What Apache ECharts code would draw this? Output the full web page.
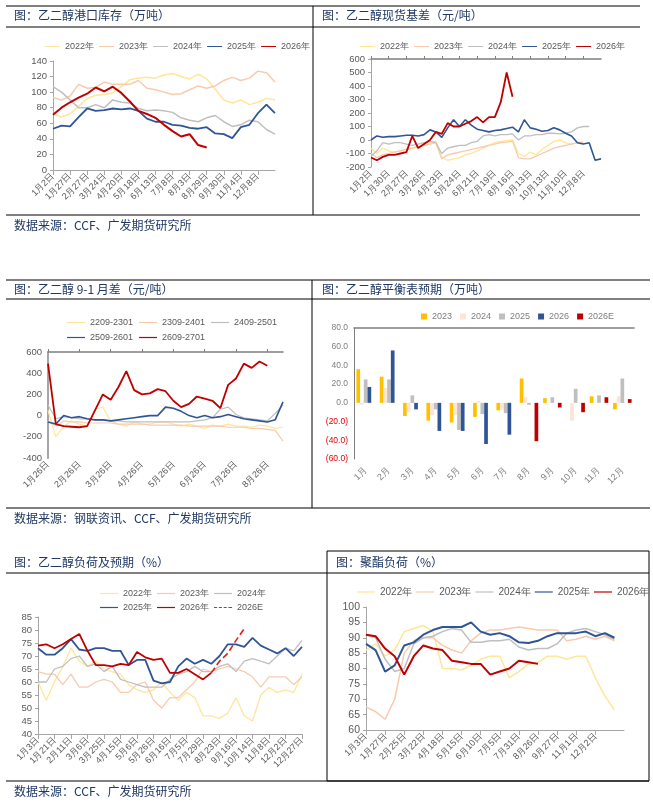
<!DOCTYPE html>
<html><head><meta charset="utf-8">
<script src="https://cdn.jsdelivr.net/npm/echarts@6/dist/echarts.min.js"></script>
<style>html,body{margin:0;padding:0;background:#fff}#main{width:653px;height:802px}</style>
</head><body><div id="main"></div>
<script>
// ---- 港口库存 ----
var p1Ticks=['1月2日','1月27日','2月27日','3月24日','4月20日','5月18日','6月13日','7月8日','8月3日','8月29日','9月30日','11月4日','12月8日'];
var inv2022=[72,68,72,82,92,96,97,99,107,116,118,119,118,122,124,120,117,123,117,104,90,86,90,84,87,92,90];
var inv2023=[93,90,95,110,105,106,113,110,110,110,115,105,103,100,97,98,103,108,105,108,115,119,115,118,127,125,113];
var inv2024=[107,100,90,80,80,84,80,90,87,86,79,76,77,76,74,67,64,62,67,70,62,56,58,64,62,52,46];
var inv2025=[53,57,56,68,79,76,77,79,78,79,76,66,62,62,58,57,54,53,55,47,46,41,55,58,73,84,73];
var inv2026=[71,80,87,93,98,106,101,107,99,88,76,72,67,58,50,43,46,32,29];
// ---- 现货基差 ----
var p2Ticks=['1月2日','1月30日','2月27日','3月26日','4月23日','5月24日','6月21日','7月19日','8月16日','9月13日','10月13日','11月10日','12月8日'];
var bs2022=[-60,-100,-60,-80,-90,-80,-70,-60,-50,-40,-20,-10,-130,-150,-140,-130,-110,-100,-80,-60,-40,-20,-10,-5,0,-100,-120,-90,-110,-70,-40,-10,0,-20,-30,-20,-10];
var bs2023=[-100,-130,-110,-100,-90,-80,-70,-60,-50,-40,-30,-20,-140,-110,-100,-90,-80,-70,-60,-50,-40,-30,-20,-15,-10,-130,-140,-140,-120,-100,-80,-60,-50,-40,-30,-20,-20];
var bs2024=[-120,-80,-20,-30,-20,-20,-30,-40,-30,-20,-10,-20,-100,-60,-50,-40,-40,-20,-10,30,40,30,40,40,45,0,30,30,40,40,50,50,45,50,60,90,100,100];
var bs2025=[0,30,20,25,25,30,35,35,30,40,75,60,20,90,150,100,150,110,80,70,60,70,75,85,95,60,150,90,80,65,70,90,75,50,30,-20,-30,-20,-150,-140];
var bs2026=[-130,-150,-125,-110,-110,-100,-90,30,-60,-30,0,60,45,125,100,100,120,140,170,130,170,170,280,500,320];
// ---- 9-1 月差 ----
var p3Ticks=['1月26日','2月26日','3月26日','4月26日','5月26日','6月26日','7月26日','8月26日'];
var sp2209=[50,-200,-100,-50,-80,-100,60,80,-50,-80,-100,-60,-80,-80,-60,-60,-80,-100,-80,-100,-120,-90,-100,-80,-100,-100,-110,-90,-100,-120,-110];
var sp2309=[-50,-100,-50,-60,-60,-70,-70,-70,-70,-80,-80,-80,-80,-90,-90,-90,-90,-90,-100,-100,-100,-100,-100,-110,-110,-110,-120,-120,-130,-140,-240];
var sp2409=[100,-30,-10,-20,-30,-30,-40,-40,-50,-50,-60,-60,-60,-60,-60,-60,-60,-60,-60,-50,-40,-20,60,80,10,-20,-30,-40,-50,20,100];
var sp2509=[-60,-80,0,-20,-10,-30,-40,-40,-50,-40,-30,-20,-10,0,0,80,70,40,0,-20,0,-20,-10,10,-10,-30,-40,-50,-60,-40,130];
var sp2609=[490,-80,-100,-105,-110,-100,50,200,150,270,420,240,200,210,250,230,140,80,110,180,160,140,70,290,350,490,450,510,470];
// ---- 平衡表 ----
var months=['1月','2月','3月','4月','5月','6月','7月','8月','9月','10月','11月','12月'];
var bal2023=[36,28,-14,-19,-21,-15,-8,26,5,0,7,-7];
var bal2024=[-2,16,-10,-13,-13,2,-7,6,0,-19,0,7];
var bal2025=[25,25,8,-7,-29,-12,-11,-2,6,15,8,26];
var bal2026=[17,56,-7,-30,-30,-44,-34,null,null,null,null,null];
var bal2026E=[null,null,null,null,null,null,null,-41,-5,-10,6,4];
// ---- 乙二醇负荷 ----
var p5Ticks=['1月3日','1月21日','2月11日','3月6日','3月25日','4月15日','5月6日','5月26日','6月16日','7月5日','7月29日','8月23日','9月16日','10月14日','11月8日','12月2日','12月27日'];
var ld2022=[60,53,60,66,73,68,66,68,65,64,63,59,57,56,57,60,56,53,56,54,47,47,46,48,54,47,45,55,58,56,57,56,63];
var ld2023=[64,63,63,59,63,58,58,60,61,60,56,56,59,60,53,50,54,54,57,60,65,64,65,66,65,64,62,58,62,62,62,59,62];
var ld2024=[60,60,65,66,69,70,66,67,64,66,61,60,59,58,58,58,61,63,64,66,64,64,66,67,64,68,69,68,67,70,73,72,76];
var ld2025=[73,70.5,70.5,73,76.5,72.5,72,73,73,72,72,66.5,68.5,68.5,60.5,59.5,60,66,69,67,68.5,67,70,74.5,74.5,73.5,77,74,72.5,71,73,70,73.5];
var ld2026=[74,74.5,73,74.5,76.5,78.5,72,66.5,66.5,66,67,66.5,71.5,69.5,68.5,69,63.5,63.5,65,63,61,63.5];
var ld2026E=[null,null,null,null,null,null,null,null,null,null,null,null,null,null,null,null,null,null,null,null,null,63.5,68,71,76,80.5];
// ---- 聚酯负荷 ----
var p6Ticks=['1月3日','1月27日','2月25日','3月22日','4月18日','5月15日','6月10日','7月5日','7月31日','8月26日','9月27日','11月1日','12月2日'];
var pe2022=[86,88,84,86,92,93,94,92,80,80,79.5,81,83,84,84,77,79,81.5,82,84,84,83,84,84,77,71,66.5];
var pe2023=[67.5,66,63.5,70,85,89,90,90,87.5,86,85,89,91.5,92.5,92.5,93,93.5,93,92.5,92.5,92.5,89,89.5,90.5,89.5,90.5,89];
var pe2024=[91,90,83,79,80,88,90,90.5,92,93,92.5,88.5,88.5,89,89,89.5,87,86,86.5,86.5,88,91.5,92.5,93,92,91,89.5];
var pe2025=[88,86,79,81,87.5,88.5,91,92.5,93.5,93.5,93.5,95,92,91,91.5,90.5,88.5,88.3,89,90.5,91.5,91.5,91.5,92,90.5,91.5,90];
var pe2026=[91,90.5,86.5,84,78,84,87.5,86.5,86,82.5,82,81.5,81.5,78,79,80,82.5,82,81.5];

var C={y22:'#FFE699',y23:'#F8CBAD',y24:'#BFBFBF',y25:'#2F5597',y26:'#C00000'};
var TXT='#595959', NAVY='#1F3864';

function cats(ticks, per, total){
  var a=[];
  for(var i=0;i<total;i++) a.push(i%per===0 && ticks[i/per]!==undefined ? ticks[i/per] : '');
  return a;
}
function line(name,data,color,w,idx,dashed){
  return {name:name,type:'line',data:data,xAxisIndex:idx,yAxisIndex:idx,symbol:'none',color:color,
    lineStyle:{color:color,width:w,type:dashed?'dashed':'solid'},connectNulls:false,animation:false};
}
function bar(name,data,color){
  return {name:name,type:'bar',data:data,xAxisIndex:3,yAxisIndex:3,color:color,barWidth:3.7,barGap:'0%',animation:false};
}
var lineIcon='path://M0,0L30,0L30,2L0,2Z';
var dashIcon='path://M0,0h5v2h-5zM8,0h5v2h-5zM16,0h5v2h-5zM24,0h6v2h-6z';
function xcat(gi,data,opts){
  var o={type:'category',gridIndex:gi,data:data,boundaryGap:false,
    axisLine:{onZero:false,lineStyle:{color:'#A6A6A6'}},
    axisTick:{alignWithLabel:true,interval:function(i,v){return v!=='';},lineStyle:{color:'#A6A6A6'}},
    axisLabel:{interval:0,rotate:45,fontSize:9,color:TXT,margin:5}};
  for(var k in opts) o[k]=opts[k];
  return o;
}
function yval(gi,min,max,step,extra){
  var o={type:'value',gridIndex:gi,min:min,max:max,interval:step,splitLine:{show:false},
    axisLine:{show:true,lineStyle:{color:'#A6A6A6'}},axisTick:{show:true,length:3,lineStyle:{color:'#A6A6A6'}},
    axisLabel:{fontSize:9.5,color:TXT,margin:6}};
  for(var k in extra) o[k]=extra[k];
  return o;
}
var c1=cats(p1Ticks,2,27), c2=cats(p2Ticks,3,40), c3=cats(p3Ticks,4,31), c5=cats(p5Ticks,2,33), c6=cats(p6Ticks,2,28);

var zeroAxis=function(gi,data,bg){
  return {type:'category',gridIndex:gi,data:data,boundaryGap:bg,axisLine:{onZero:true,lineStyle:{color:'#7F7F7F',width:1.5}},
    axisTick:{alignWithLabel:true,interval:function(i,v){return v!=='';},length:3,lineStyle:{color:'#7F7F7F'}},axisLabel:{show:false}};
};

var legTxt={fontSize:9,color:TXT};
function leg(left,top,names,w,gap,txt){
  return {left:left,top:top,width:620,itemWidth:w,itemHeight:2,itemGap:gap,textStyle:txt||legTxt,icon:lineIcon,data:names};
}
var years=['2022年','2023年','2024年','2025年','2026年'];
var option={
  animation:false,
  grid:[
    {left:53,top:61,width:222,height:109},
    {left:371,top:59,width:230,height:108},
    {left:48,top:352,width:235,height:106},
    {left:354,top:328,width:280,height:131},
    {left:38,top:617,width:264,height:117},
    {left:366,top:607,width:258,height:123}
  ],
  xAxis:[
    xcat(0,c1),
    xcat(1,c2,{axisLine:{show:false},axisTick:{show:false}}),
    xcat(2,c3,{axisLine:{show:false},axisTick:{show:false}}),
    {type:'category',gridIndex:3,data:months,axisLine:{show:false},axisTick:{show:false},axisLabel:{interval:0,rotate:45,fontSize:9,color:'#7F7F7F',margin:10}},
    xcat(4,c5),
    xcat(5,c6),
    zeroAxis(1,c2,false),
    zeroAxis(2,c3,false),
    zeroAxis(3,months,true)
  ],
  yAxis:[
    yval(0,0,140,20),
    yval(1,-200,600,100),
    yval(2,-400,600,200,{axisLine:{show:true,lineStyle:{color:'#A6A6A6',width:2}},axisTick:{show:false}}),
    yval(3,-60,80,20,{axisLine:{show:true,lineStyle:{color:'#7F7F7F'}},axisTick:{show:false},
      axisLabel:{fontSize:8.5,margin:6,
        formatter:function(v){return v<0?'('+(-v).toFixed(1)+')':v.toFixed(1);},
        color:function(v){return Number(v)<0?'#E00000':'#7F7F7F';}}}),
    yval(4,40,85,5),
    yval(5,60,100,5,{axisLabel:{fontSize:10.5,color:TXT,margin:6}})
  ],
  legend:[
    leg(40,37,years,15,5),
    leg(355,37,years,15,5),
    leg(62,313,['2209-2301','2309-2401','2409-2501'],18,6),
    leg(62,328,['2509-2601','2609-2701'],18,6),
    {left:416,top:307,width:300,itemWidth:6,itemHeight:6,itemGap:8,icon:'rect',textStyle:{fontSize:9,color:'#7F7F7F'},
      data:['2023','2024','2025','2026','2026E']},
    leg(95,584,['2022年','2023年','2024年'],18,5),
    {left:95,top:598,width:300,itemWidth:18,itemHeight:2,itemGap:5,textStyle:legTxt,
      data:[{name:'2025年',icon:lineIcon},{name:'2026年',icon:lineIcon},{name:'2026E ',icon:dashIcon}]},
    leg(352,582,years,18,4,{fontSize:10,color:TXT})
  ],
  series:[
    line('2022年',inv2022,C.y22,1.5,0),line('2023年',inv2023,C.y23,1.5,0),line('2024年',inv2024,C.y24,1.5,0),
    line('2025年',inv2025,C.y25,1.8,0),line('2026年',inv2026,C.y26,2,0),
    line('2022年',bs2022,C.y22,1.3,1),line('2023年',bs2023,C.y23,1.3,1),line('2024年',bs2024,C.y24,1.3,1),
    line('2025年',bs2025,C.y25,1.6,1),line('2026年',bs2026,C.y26,1.8,1),
    line('2209-2301',sp2209,C.y22,1.2,2),line('2309-2401',sp2309,C.y23,1.2,2),line('2409-2501',sp2409,C.y24,1.2,2),
    line('2509-2601',sp2509,C.y25,1.6,2),line('2609-2701',sp2609,C.y26,1.8,2),
    bar('2023',bal2023,'#FFC000'),bar('2024',bal2024,'#FCE4D6'),bar('2025',bal2025,'#BFBFBF'),
    bar('2026',bal2026,'#2F5597'),bar('2026E',bal2026E,'#C00000'),
    line('2022年',ld2022,C.y22,1.3,4),line('2023年',ld2023,C.y23,1.3,4),line('2024年',ld2024,C.y24,1.3,4),
    line('2025年',ld2025,C.y25,1.8,4),line('2026年',ld2026,C.y26,1.8,4),line('2026E ',ld2026E,'#E02020',1.6,4,true),
    line('2022年',pe2022,C.y22,1.5,5),line('2023年',pe2023,C.y23,1.5,5),line('2024年',pe2024,C.y24,1.5,5),
    line('2025年',pe2025,C.y25,2,5),line('2026年',pe2026,C.y26,2,5)
  ],
  graphic:[
    {type:'line',shape:{x1:6,y1:6,x2:640,y2:6},style:{stroke:'#000',lineWidth:1}},
    {type:'line',shape:{x1:6,y1:27,x2:640,y2:27},style:{stroke:'#000',lineWidth:1}},
    {type:'line',shape:{x1:6,y1:215,x2:640,y2:215},style:{stroke:'#000',lineWidth:1}},
    {type:'line',shape:{x1:313,y1:6,x2:313,y2:215},style:{stroke:'#000',lineWidth:1}},
    {type:'line',shape:{x1:6,y1:280,x2:650,y2:280},style:{stroke:'#000',lineWidth:1}},
    {type:'line',shape:{x1:6,y1:299,x2:650,y2:299},style:{stroke:'#000',lineWidth:1}},
    {type:'line',shape:{x1:6,y1:508,x2:650,y2:508},style:{stroke:'#000',lineWidth:1}},
    {type:'line',shape:{x1:312,y1:280,x2:312,y2:508},style:{stroke:'#000',lineWidth:1}},
    {type:'line',shape:{x1:6,y1:573,x2:649,y2:573},style:{stroke:'#000',lineWidth:1}},
    {type:'line',shape:{x1:6,y1:781,x2:649,y2:781},style:{stroke:'#000',lineWidth:1}},
    {type:'rect',shape:{x:327,y:551,width:322,height:230},style:{fill:'none',stroke:'#000',lineWidth:1}},
    {type:'text',left:14,top:9,style:{text:'图：乙二醇港口库存（万吨）',fontSize:12,fill:NAVY,fontFamily:'Noto Sans CJK SC'}},
    {type:'text',left:322,top:9,style:{text:'图：乙二醇现货基差（元/吨）',fontSize:12,fill:NAVY,fontFamily:'Noto Sans CJK SC'}},
    {type:'text',left:14,top:283,style:{text:'图：乙二醇 9-1 月差（元/吨）',fontSize:12,fill:NAVY,fontFamily:'Noto Sans CJK SC'}},
    {type:'text',left:322,top:283,style:{text:'图：乙二醇平衡表预期（万吨）',fontSize:12,fill:NAVY,fontFamily:'Noto Sans CJK SC'}},
    {type:'text',left:14,top:556,style:{text:'图：乙二醇负荷及预期（%）',fontSize:12,fill:NAVY,fontFamily:'Noto Sans CJK SC'}},
    {type:'text',left:336,top:556,style:{text:'图：聚酯负荷（%）',fontSize:12,fill:NAVY,fontFamily:'Noto Sans CJK SC'}},
    {type:'text',left:14,top:219,style:{text:'数据来源：CCF、广发期货研究所',fontSize:12,fill:NAVY,fontFamily:'Noto Sans CJK SC'}},
    {type:'text',left:14,top:512,style:{text:'数据来源：钢联资讯、CCF、广发期货研究所',fontSize:12,fill:NAVY,fontFamily:'Noto Sans CJK SC'}},
    {type:'text',left:14,top:785,style:{text:'数据来源：CCF、广发期货研究所',fontSize:12,fill:NAVY,fontFamily:'Noto Sans CJK SC'}}
  ]
};
var chart=echarts.init(document.getElementById('main'));
chart.setOption(option);
</script></body></html>
